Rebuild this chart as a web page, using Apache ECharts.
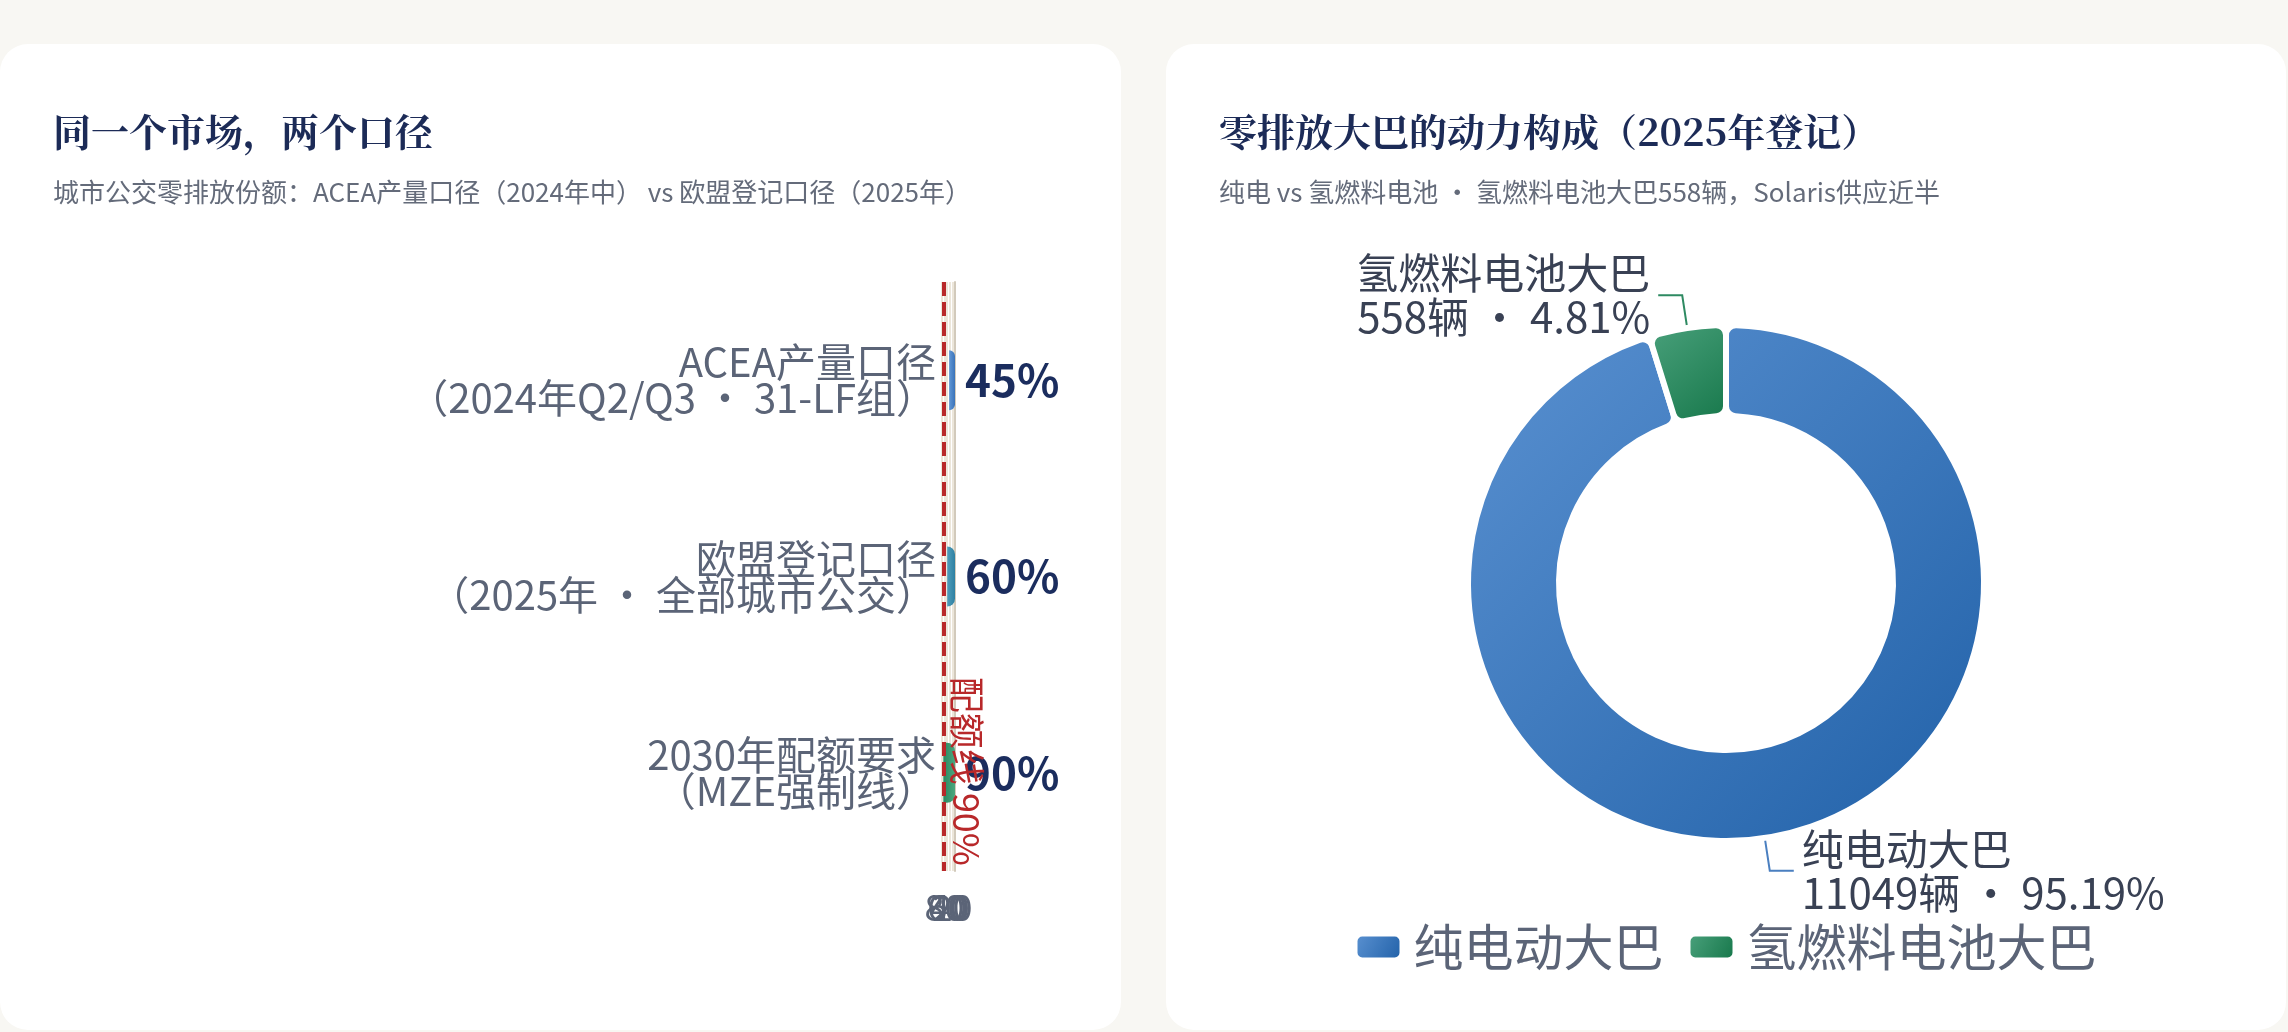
<!DOCTYPE html>
<html lang="zh-CN">
<head>
<meta charset="utf-8">
<title>零排放大巴</title>
<script src="https://cdn.jsdelivr.net/npm/echarts@6/dist/echarts.min.js"></script>
<style>
  html, body { margin: 0; padding: 0; }
  body {
    width: 2288px; height: 1032px; position: relative; overflow: hidden;
    background: #f8f7f3;
    font-family: "Noto Sans CJK SC", "Noto Sans", sans-serif;
  }
  .card { position: absolute; top: 44px; height: 986px; background: #fff; border-radius: 28px; }
  #card-left { left: 0; width: 1121px; }
  #card-right { left: 1166px; width: 1120px; }
  .chart { position: absolute; left: 0; top: 0; width: 100%; height: 100%; }
  .head { position: absolute; left: 53px; top: 63px; z-index: 2; }
  .head h2 {
    margin: 0; color: #1c2b57;
    font: bold 38px/46px "Noto Serif CJK SC", "Source Han Serif SC", serif;
  }
  .head p { margin: 22px 0 0; font-size: 26px; line-height: 32px; color: #646b7a; }
</style>
</head>
<body>
<div class="card" id="card-left">
  <div class="chart" id="share"></div>
  <div class="head">
    <h2>同一个市场，两个口径</h2>
    <p>城市公交零排放份额：ACEA产量口径（2024年中） vs 欧盟登记口径（2025年）</p>
  </div>
</div>
<div class="card" id="card-right">
  <div class="chart" id="mix"></div>
  <div class="head">
    <h2>零排放大巴的动力构成（2025年登记）</h2>
    <p>纯电 vs 氢燃料电池 · 氢燃料电池大巴558辆，Solaris供应近半</p>
  </div>
</div>

<script>
// 左图：零排放份额（两种口径 + 2030配额）
const shareCats = [
  'ACEA产量口径\n（2024年Q2/Q3 · 31-LF组）',
  '欧盟登记口径\n（2025年 · 全部城市公交）',
  '2030年配额要求\n（MZE强制线）'
];
const shareValues = [45, 60, 90];
const shareTicks = [0, 20, 40, 60, 80, 100];
const quotaValue = 90;

// 右图：动力构成
const busTypes = ['纯电动大巴', '氢燃料电池大巴'];
const busCounts = [11049, 558];

const FONT = '"Noto Sans CJK SC", "Noto Sans", sans-serif';
const barColors = [['#6097d6', '#3b73b9'], ['#4f9dba', '#2e80a2'], ['#2a8860', '#4ba77f']];
const pieColors = [['#5a91d1', '#2161a8'], ['#4aa17c', '#16774a']];
const pieLineColors = ['#4a7fc0', '#2e8a62'];

function lin(c, x2, y2) {
  return new echarts.graphic.LinearGradient(0, 0, x2, y2, [
    { offset: 0, color: c[0] },
    { offset: 1, color: c[1] }
  ]);
}

const share = echarts.init(document.getElementById('share'));
share.setOption({
  textStyle: { fontFamily: FONT },
  grid: { left: 942, width: 13, top: 238, height: 589 },
  xAxis: {
    type: 'value',
    inverse: true,
    min: shareTicks[0],
    max: shareTicks[shareTicks.length - 1],
    interval: shareTicks[1] - shareTicks[0],
    axisLine: { show: false },
    axisTick: { show: false },
    splitLine: { lineStyle: { color: '#ece6da', width: 2 } },
    axisLabel: { fontSize: 36, color: '#5b6477', margin: 18, showMaxLabel: false }
  },
  yAxis: {
    type: 'category',
    inverse: true,
    data: shareCats,
    axisLine: { lineStyle: { color: '#d2cabb', width: 2 } },
    axisTick: { show: false },
    axisLabel: { fontSize: 40, lineHeight: 36, color: '#5b6477', margin: 6, align: 'right' }
  },
  series: [{
    type: 'bar',
    barWidth: 60,
    data: shareValues.map((v, i) => ({
      value: v,
      itemStyle: { color: lin(barColors[i], 1, 0) }
    })),
    itemStyle: { borderRadius: [0, 8, 8, 0] },
    label: {
      show: true, position: 'right', distance: 10,
      formatter: '{c}%', fontSize: 44, fontWeight: 'bold', color: '#1b2d5e'
    },
    markLine: {
      silent: true,
      symbol: 'none',
      data: [{ xAxis: quotaValue }],
      lineStyle: { color: '#b8282a', width: 4, type: [14, 6] },
      label: {
        formatter: '配额线 90%', position: 'insideEndTop',
        color: '#b8282a', fontSize: 36
      }
    }
  }]
});

const mix = echarts.init(document.getElementById('mix'));
mix.setOption({
  textStyle: { fontFamily: FONT },
  legend: {
    top: 873, left: 'center',
    icon: 'roundRect', itemWidth: 44, itemHeight: 23, itemGap: 25,
    textStyle: { fontSize: 50, color: '#5b6477', padding: [0, 0, 0, 8] }
  },
  series: [{
    type: 'pie',
    center: ['50%', 539],
    radius: [167, 258],
    startAngle: 90,
    itemStyle: { borderColor: '#fff', borderWidth: 6, borderRadius: 10 },
    label: {
      formatter: '{b}\n{c}辆 · {d}%',
      fontSize: 42, lineHeight: 44, color: '#394154',
      distanceToLabelLine: 8
    },
    labelLine: { length: 33, length2: 24, lineStyle: { width: 2 } },
    data: busTypes.map((n, i) => ({
      name: n,
      value: busCounts[i],
      itemStyle: { color: lin(pieColors[i], 1, 1) },
      labelLine: { lineStyle: { color: pieLineColors[i] } }
    }))
  }]
});
</script>
</body>
</html>
